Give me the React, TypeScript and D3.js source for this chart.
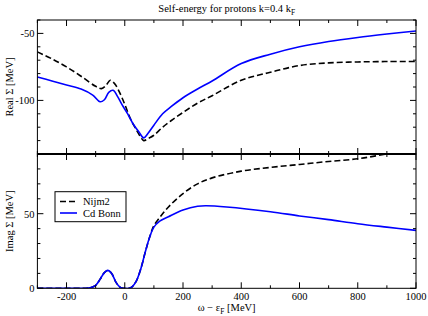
import * as d3 from "d3";

// omega - eps_F [MeV]
const realNijmW = [-300, -250, -200, -150, -100, -80, -65, -50, -35, -20, 0, 20, 40, 55, 65, 80, 100, 130, 160, 200, 250, 300, 400, 500, 600, 700, 800, 900, 1000];
const realNijm = [-63.8, -69, -75, -82, -89.5, -91.2, -89, -85, -87.5, -93, -103, -114, -122, -127.5, -130, -128.5, -126, -120, -115, -109, -102, -96.5, -85, -79, -74, -72, -71.3, -71, -71];

const realBonnW = [-300, -250, -200, -150, -110, -85, -70, -55, -40, -25, -10, 10, 30, 50, 65, 80, 100, 130, 160, 200, 250, 300, 400, 500, 600, 700, 800, 900, 1000];
const realBonn = [-82.5, -85.5, -88.5, -91.5, -96, -101, -99.5, -94, -92.5, -97, -103, -110, -118, -124, -128, -124.5, -118.5, -110, -104.5, -98, -91.5, -85.5, -72.5, -65.5, -60, -56, -53, -50.5, -48.25];

const imagBonnW = [-300, -200, -140, -120, -100, -85, -70, -58, -45, -30, -15, 0, 15, 25, 40, 55, 70, 85, 100, 120, 150, 200, 250, 280, 350, 500, 600, 700, 800, 900, 1000];
const imagBonn = [0, 0, 0, 0.3, 2, 6, 10.5, 12, 10, 4, 0.5, 0, 0, 1, 5, 13, 24, 34, 41, 45, 48, 52.5, 55, 55.3, 54.5, 51.3, 48.5, 46, 43.3, 41, 38.8];

const imagNijmW = [-300, -200, -140, -120, -100, -85, -70, -58, -45, -30, -15, 0, 15, 25, 40, 55, 70, 85, 100, 120, 150, 200, 250, 300, 400, 500, 600, 700, 800, 900, 1000];
const imagNijm = [0, 0, 0, 0.3, 2, 6, 10.5, 12, 10, 4, 0.5, 0, 0, 1, 5, 13, 24, 34, 42, 47.5, 54.5, 63.5, 70, 74, 78.5, 81, 83, 85, 86.8, 90, 93];

const xTicks = [-200, 0, 200, 400, 600, 800, 1000];
const realTicks = [-100, -50];
const imagTicks = [0, 50];

const W = 428;
const H = 316;
const left = 37.4;
const right = 416;
const top1 = 20;
const mid = 154;
const bottom = 288.3;
const font = "Liberation Serif, Times New Roman, serif";

const x = d3.scaleLinear([-300, 1000], [left, right]);
const yr = d3.scaleLinear([-140, -40], [mid, top1]);
const yi = d3.scaleLinear([0, 90], [bottom, mid]);

const zip = (w: number[], v: number[]) => w.map((d, i) => [d, v[i]] as [number, number]);

function Panel({ y, y0, y1, ticks, id, series, label }: any) {
  const line = d3
    .line<[number, number]>()
    .x((d) => x(d[0]))
    .y((d) => y(d[1]))
    .curve(d3.curveCatmullRom);
  return (
    <g>
      <clipPath id={id}>
        <rect x={left} y={y1} width={right - left} height={y0 - y1} />
      </clipPath>
      <g clipPath={`url(#${id})`} fill="none" strokeWidth={1.6}>
        {series.map((s: any, i: number) => (
          <path key={i} d={line(s.data) as string} stroke={s.color} strokeDasharray={s.dash} />
        ))}
      </g>
      <rect x={left} y={y1} width={right - left} height={y0 - y1} fill="none" stroke="#000" strokeWidth={1} />
      <g stroke="#000" strokeWidth={1}>
        {x.ticks(13).map((t) => {
          const len = xTicks.includes(t) ? 6 : 3;
          return (
            <g key={"x" + t}>
              <line x1={x(t)} x2={x(t)} y1={y0} y2={y0 - len} />
              <line x1={x(t)} x2={x(t)} y1={y1} y2={y1 + len} />
            </g>
          );
        })}
        {y.ticks(10).map((t: number) => {
          const len = ticks.includes(t) ? 6 : 3;
          return (
            <g key={"y" + t}>
              <line x1={left} x2={left + len} y1={y(t)} y2={y(t)} />
              <line x1={right} x2={right - len} y1={y(t)} y2={y(t)} />
            </g>
          );
        })}
      </g>
      <g fontFamily={font} fontSize={10.5} textAnchor="end">
        {ticks.map((t: number) => (
          <text key={t} x={left - 3} y={y(t) + 4}>
            {t}
          </text>
        ))}
      </g>
      <text
        transform={`translate(13,${(y0 + y1) / 2}) rotate(-90)`}
        textAnchor="middle"
        fontFamily={font}
        fontSize={10.5}
      >
        {label}
      </text>
    </g>
  );
}

export default function App() {
  return (
    <svg width={W} height={H} style={{ position: "absolute", left: 0, top: 0, background: "#fff" }}>
      <text x={(left + right) / 2} y={12} textAnchor="middle" fontFamily={font} fontSize={10.5}>
        Self-energy for protons k=0.4 k<tspan fontSize={7.5} dy={3}>F</tspan>
      </text>
      <Panel
        id="clipR"
        y={yr}
        y0={mid}
        y1={top1}
        ticks={realTicks}
        label="Real Σ [MeV]"
        series={[
          { data: zip(realNijmW, realNijm), color: "#000", dash: "6,3" },
          { data: zip(realBonnW, realBonn), color: "#0000ff" },
        ]}
      />
      <Panel
        id="clipI"
        y={yi}
        y0={bottom}
        y1={mid}
        ticks={imagTicks}
        label="Imag Σ [MeV]"
        series={[
          { data: zip(imagNijmW, imagNijm), color: "#000", dash: "6,3" },
          { data: zip(imagBonnW, imagBonn), color: "#0000ff" },
        ]}
      />
      <line x1={left} x2={right} y1={mid} y2={mid} stroke="#000" strokeWidth={2} />
      <g fontFamily={font} fontSize={10.5} textAnchor="middle">
        {xTicks.map((t) => (
          <text key={t} x={x(t)} y={bottom + 12}>
            {t}
          </text>
        ))}
      </g>
      <text x={(left + right) / 2} y={311} textAnchor="middle" fontFamily={font} fontSize={10.5}>
        ω − ε<tspan fontSize={7.5} dy={3}>F</tspan>
        <tspan dy={-3}> [MeV]</tspan>
      </text>
      <g fontFamily={font} fontSize={10.5}>
        <rect x={55} y={191.7} width={71} height={30} fill="#fff" stroke="#000" strokeWidth={1} />
        <line x1={60} x2={77} y1={201.5} y2={201.5} stroke="#000" strokeWidth={1.6} strokeDasharray="6,3" />
        <text x={83} y={205}>Nijm2</text>
        <line x1={60} x2={77} y1={213} y2={213} stroke="#0000ff" strokeWidth={1.6} />
        <text x={83} y={216.5}>Cd Bonn</text>
      </g>
    </svg>
  );
}
